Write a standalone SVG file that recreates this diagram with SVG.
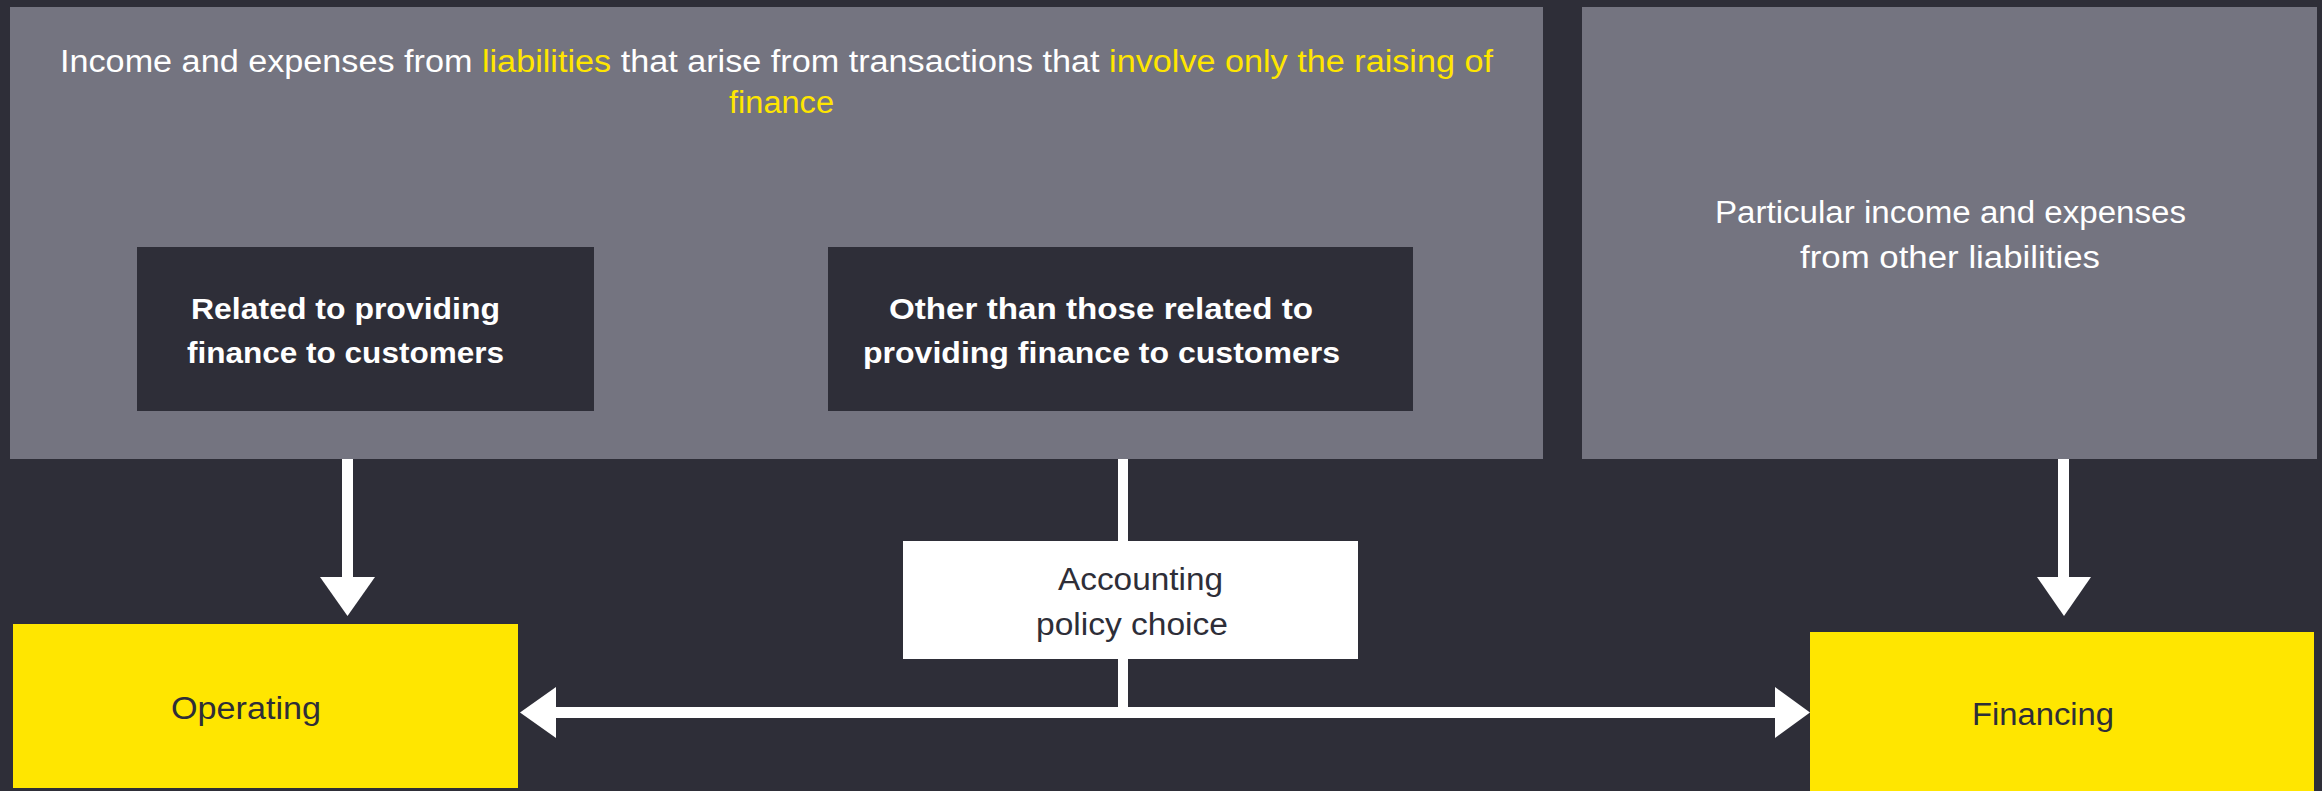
<svg xmlns="http://www.w3.org/2000/svg" width="2322" height="791" viewBox="0 0 2322 791">
<style>
  .t { font-family: "Liberation Sans", Arial, sans-serif; font-size: 31px; }
  .w { fill: #ffffff; }
  .y { fill: #ffe600; }
  .d { fill: #2e2e38; }
  .b { font-weight: bold; font-size: 30px; }
  .arrow { fill: #ffffff; }
</style>
<rect x="0" y="0" width="2322" height="791" fill="#2e2e38"/>

<g id="connectors">
  <rect class="arrow" x="342" y="411" width="11" height="168"/>
  <polygon class="arrow" points="320,577 375,577 347.5,616"/>
  <rect class="arrow" x="2058" y="459" width="11" height="120"/>
  <polygon class="arrow" points="2037,577 2091,577 2064,616"/>
  <rect class="arrow" x="1118" y="411" width="10" height="302"/>
  <rect class="arrow" x="554" y="707" width="1223" height="11"/>
  <polygon class="arrow" points="556,687 556,738 520,712.5"/>
  <polygon class="arrow" points="1775,687 1775,738 1810,712.5"/>
</g>

<g id="liabilities-raising-finance">
  <rect x="10" y="7" width="1533" height="452" fill="#747480"/>
  <text class="t w" x="60" y="72" textLength="1433" lengthAdjust="spacingAndGlyphs">Income and expenses from <tspan class="y">liabilities</tspan> that arise from transactions that <tspan class="y">involve only the raising of</tspan></text>
  <text class="t y" x="729" y="113" textLength="105" lengthAdjust="spacingAndGlyphs">finance</text>
</g>

<g id="other-liabilities">
  <rect x="1582" y="7" width="735" height="452" fill="#747480"/>
  <text class="t w" x="1715" y="223" textLength="471" lengthAdjust="spacingAndGlyphs">Particular income and expenses</text>
  <text class="t w" x="1800" y="268" textLength="300" lengthAdjust="spacingAndGlyphs">from other liabilities</text>
</g>

<g id="related-to-customers">
  <rect x="137" y="247" width="457" height="164" fill="#2e2e38"/>
  <text class="t b w" x="191" y="319" textLength="309" lengthAdjust="spacingAndGlyphs">Related to providing</text>
  <text class="t b w" x="187" y="363" textLength="317" lengthAdjust="spacingAndGlyphs">finance to customers</text>
</g>

<g id="other-than-customers">
  <rect x="828" y="247" width="585" height="164" fill="#2e2e38"/>
  <text class="t b w" x="889" y="319" textLength="424" lengthAdjust="spacingAndGlyphs">Other than those related to</text>
  <text class="t b w" x="863" y="363" textLength="477" lengthAdjust="spacingAndGlyphs">providing finance to customers</text>
</g>

<g id="accounting-policy-choice">
  <rect x="903" y="541" width="455" height="118" fill="#ffffff"/>
  <text class="t d" x="1058" y="590" textLength="165" lengthAdjust="spacingAndGlyphs">Accounting</text>
  <text class="t d" x="1036" y="635" textLength="192" lengthAdjust="spacingAndGlyphs">policy choice</text>
</g>

<g id="operating">
  <rect x="13" y="624" width="505" height="164" fill="#ffe600"/>
  <text class="t d" x="171" y="719" textLength="150" lengthAdjust="spacingAndGlyphs">Operating</text>
</g>

<g id="financing">
  <rect x="1810" y="632" width="504" height="159" fill="#ffe600"/>
  <text class="t d" x="1972" y="725" textLength="142" lengthAdjust="spacingAndGlyphs">Financing</text>
</g>
</svg>
